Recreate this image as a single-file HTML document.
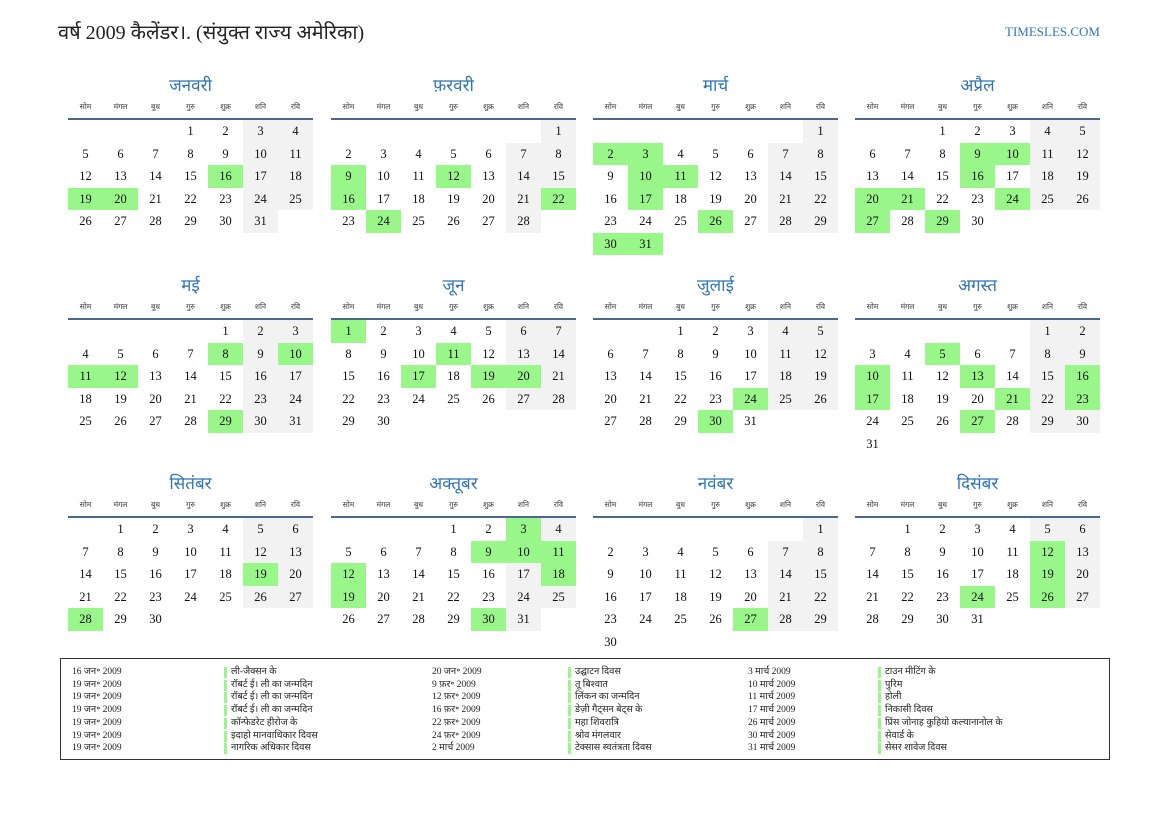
<!DOCTYPE html>
<html><head><meta charset="utf-8"><style>
body{margin:0;width:1169px;height:827px;background:#fff;position:relative;overflow:hidden;font-family:"Liberation Serif","Noto Serif CJK SC",serif;}
.a{position:absolute;white-space:nowrap}
.t{font-size:17px;text-align:center;width:245px;color:#2f75b5}
.dn{font-size:7.5px;color:#333;width:35px;text-align:center}
.c{width:35px;height:22.5px;line-height:22.5px;text-align:center;font-size:12.5px;color:#111}
.g{background:#f2f2f2}.h{background:#99f78a}
.ln{height:2px;background:#4a6790;width:245px}
.lg{font-size:9.5px;color:#222;line-height:12.7px}
.bar{width:3px;height:11px;background:#99f78a}
</style></head><body>
<div class="a" style="left:58px;top:18px;font-size:20px;color:#222">वर्ष 2009 कैलेंडर।. (संयुक्त राज्य अमेरिका)</div>
<div class="a" style="left:1005px;top:24px;font-size:13px;color:#2f75b5">TIMESLES.COM</div>
<div id="cal"></div>
<div class="a" style="left:60px;top:658px;width:1048px;height:100px;border:1px solid #333"></div>
<div id="leg"></div>
<script>
(function(){
var names=["जनवरी","फ़रवरी","मार्च","अप्रैल","मई","जून","जुलाई","अगस्त","सितंबर","अक्तूबर","नवंबर","दिसंबर"];
var dn=["सोम","मंगल","बुध","गुरु","शुक्र","शनि","रवि"];
var hl=[[16,19,20],[9,12,16,22,24],[2,3,10,11,17,26,30,31],[9,10,16,20,21,24,27,29],[8,10,11,12,29],[1,11,17,19,20],[24,30],[5,10,13,16,17,21,23,27],[19,28],[3,9,10,11,12,18,19,30],[27],[12,19,24,26]];
var xs=[68,331,593,855],ys=[0,200,398],h="";
for(var m=0;m<12;m++){var x=xs[m%4],y=ys[Math.floor(m/4)];
h+='<div class="a t" style="left:'+x+'px;top:'+(y+73)+'px">'+names[m]+'</div>';
for(var i=0;i<7;i++)h+='<div class="a dn" style="left:'+(x+i*35)+'px;top:'+(y+102)+'px">'+dn[i]+'</div>';
h+='<div class="a ln" style="left:'+x+'px;top:'+(y+118)+'px"></div>';
var f=(new Date(2009,m,1).getDay()+6)%7,n=new Date(2009,m+1,0).getDate();
for(var d=1;d<=n;d++){var p=f+d-1,col=p%7,row=Math.floor(p/7);
var cls=hl[m].indexOf(d)>=0?' h':(col>=5?' g':'');
h+='<div class="a c'+cls+'" style="left:'+(x+col*35)+'px;top:'+(y+120+row*22.5)+'px">'+d+'</div>';}}
document.getElementById('cal').innerHTML=h;
var L=[["16 जन॰ 2009","ली-जैक्सन के","20 जन॰ 2009","उद्घाटन दिवस","3 मार्च 2009","टाउन मीटिंग के"],
["19 जन॰ 2009","रॉबर्ट ई। ली का जन्मदिन","9 फ़र॰ 2009","तू बिश्वात","10 मार्च 2009","पुरिम"],
["19 जन॰ 2009","रॉबर्ट ई। ली का जन्मदिन","12 फ़र॰ 2009","लिंकन का जन्मदिन","11 मार्च 2009","होली"],
["19 जन॰ 2009","रॉबर्ट ई। ली का जन्मदिन","16 फ़र॰ 2009","डेज़ी गैट्सन बेट्स के","17 मार्च 2009","निकासी दिवस"],
["19 जन॰ 2009","कॉन्फेडरेट हीरोज के","22 फ़र॰ 2009","महा शिवरात्रि","26 मार्च 2009","प्रिंस जोनाह कुहियो कल्यानानोल के"],
["19 जन॰ 2009","इदाहो मानवाधिकार दिवस","24 फ़र॰ 2009","श्रोव मंगलवार","30 मार्च 2009","सेवार्ड के"],
["19 जन॰ 2009","नागरिक अधिकार दिवस","2 मार्च 2009","टेक्सास स्वतंत्रता दिवस","31 मार्च 2009","सेसर शावेज दिवस"]];
var cx=[72,231,432,575,748,885],g="";
for(var r=0;r<7;r++)for(var k=0;k<6;k++){var ty=666+r*12.7;
if(k%2)g+='<div class="a bar" style="left:'+(cx[k]-7)+'px;top:'+(ty+1)+'px"></div>';
g+='<div class="a lg" style="left:'+cx[k]+'px;top:'+ty+'px">'+L[r][k]+'</div>';}
document.getElementById('leg').innerHTML=g;
})();
</script>
</body></html>
